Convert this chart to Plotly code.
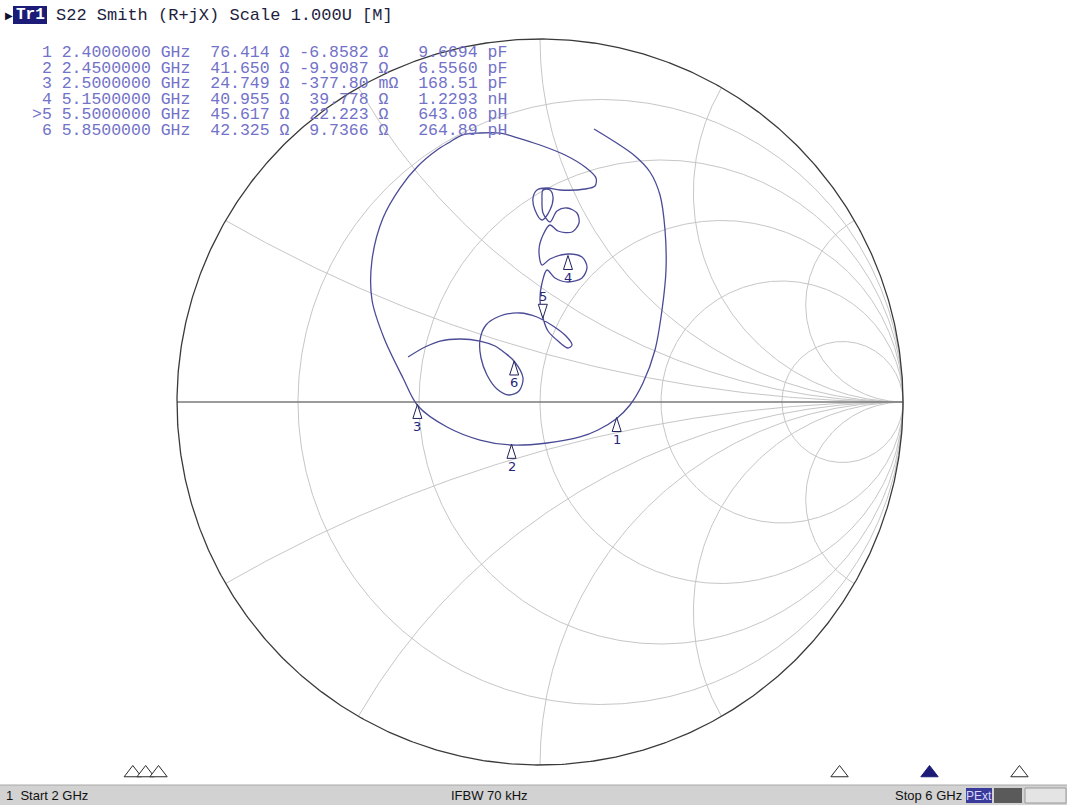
import numpy as np
import plotly.graph_objects as go

# ---------------- data ----------------
Z0 = 50.0
start_ghz = 2.0
stop_ghz = 6.0
ifbw_khz = 70
trace_name = "Tr1"
header_text = "S22 Smith (R+jX) Scale 1.000U [M]"

marker_ids = ["1", "2", "3", "4", "5", "6"]
marker_active = [False, False, False, False, True, False]
marker_freq_ghz = [2.40, 2.45, 2.50, 5.15, 5.50, 5.85]
marker_r_ohm = [76.414, 41.650, 24.749, 40.955, 45.617, 42.325]
marker_x_ohm = [-6.8582, -9.9087, -0.37780, 39.778, 22.223, 9.7366]
marker_eq_value = [9.6694, 6.5560, 168.51, 1.2293, 643.08, 264.89]
marker_eq_unit = ["pF", "pF", "pF", "nH", "pH", "pH"]

# S22 reflection coefficient (real / imaginary), 2 GHz -> 6 GHz
trace_gamma_re = [0.1488, 0.2066, 0.2617, 0.3030, 0.3306, 0.3444, 0.3471, 0.3361, 0.3168, 0.2837,
                  0.2479, 0.2094, 0.1598, 0.1102, 0.0193, -0.0799, -0.1653, -0.2562, -0.3361, -0.3774,
                  -0.4298, -0.4628, -0.4628, -0.4325, -0.3857, -0.3361, -0.2837, -0.2479, -0.2149, -0.1653,
                  -0.1102, -0.0689, 0.0000, 0.0689, 0.1240, 0.1543, 0.1515, 0.1240, 0.0551, 0.0193,
                  -0.0083, -0.0193, -0.0138, 0.0055, 0.0275, 0.0358, 0.0275, 0.0083, 0.0055, 0.0083,
                  0.0275, 0.0468, 0.0744, 0.1019, 0.1074, 0.0882, 0.0496, 0.0275, 0.0083, -0.0028,
                  0.0055, 0.0275, 0.0771, 0.1157, 0.1295, 0.1157, 0.0771, 0.0413, 0.0193, 0.0055,
                  0.0000, 0.0083, 0.0220, 0.0496, 0.0771, 0.0882, 0.0716, 0.0358, -0.0083, -0.0551,
                  -0.1102, -0.1488, -0.1653, -0.1625, -0.1460, -0.1185, -0.0854, -0.0579, -0.0468, -0.0716,
                  -0.0964, -0.1240, -0.1653, -0.2204, -0.2755, -0.3168, -0.3636]
trace_gamma_im = [0.7521, 0.7163, 0.6777, 0.6336, 0.5702, 0.4738, 0.3636, 0.2534, 0.1433, 0.0523,
                  -0.0083, -0.0468, -0.0771, -0.0964, -0.1129, -0.1185, -0.1047, -0.0689, -0.0110, 0.0661,
                  0.1763, 0.2810, 0.3912, 0.5069, 0.5895, 0.6501, 0.6942, 0.7163, 0.7355, 0.7410,
                  0.7410, 0.7300, 0.7080, 0.6804, 0.6474, 0.6171, 0.5950, 0.5868, 0.5840, 0.5895,
                  0.5840, 0.5620, 0.5289, 0.5014, 0.5289, 0.5647, 0.5840, 0.5840, 0.5565, 0.5207,
                  0.4959, 0.5262, 0.5344, 0.5207, 0.4931, 0.4683, 0.4711, 0.4876, 0.4601, 0.4187,
                  0.3774, 0.3939, 0.4077, 0.3994, 0.3719, 0.3416, 0.3306, 0.3416, 0.3636, 0.3278,
                  0.2810, 0.2314, 0.1956, 0.1680, 0.1488, 0.1570, 0.1818, 0.2094, 0.2342, 0.2452,
                  0.2369, 0.2121, 0.1708, 0.1212, 0.0744, 0.0358, 0.0193, 0.0303, 0.0661, 0.1129,
                  0.1350, 0.1543, 0.1680, 0.1736, 0.1680, 0.1515, 0.1240]

grid_r = [0.2, 0.5, 1.0, 2.0, 5.0]
grid_x = [0.268, 0.577, 1.0, 1.732, 3.732]

# ---------------- layout constants (pixels) ----------------
W, H = 1067, 805
CX, CY, RAD = 540, 402, 363
FREQ_PX0, FREQ_PX1 = 30, 1058
PX = 1.0 / RAD  # data units per pixel

MONO = "Liberation Mono, DejaVu Sans Mono, monospace"
NARROW = "Liberation Sans Narrow, Liberation Sans, Arial"
GRID_C = "#c6c6c6"
NAVY = "#1c1c78"

fig = go.Figure()

# ---------------- Smith grid ----------------
t = np.linspace(0, 2 * np.pi, 721)
for r in grid_r:
    fig.add_trace(go.Scatter(x=r / (1 + r) + np.cos(t) / (1 + r), y=np.sin(t) / (1 + r),
                             mode="lines", line=dict(color=GRID_C, width=1),
                             hoverinfo="skip", showlegend=False))
rr = np.concatenate([[0.0], np.logspace(-3, 4.5, 600)])
for xv in grid_x:
    for sgn in (1, -1):
        z = rr + 1j * sgn * xv
        g = (z - 1) / (z + 1)
        g = np.append(g, 1 + 0j)
        fig.add_trace(go.Scatter(x=g.real, y=g.imag, mode="lines",
                                 line=dict(color=GRID_C, width=1),
                                 hoverinfo="skip", showlegend=False))
# real axis
fig.add_trace(go.Scatter(x=[-1, 1], y=[0, 0], mode="lines", line=dict(color="#7a7a7a", width=1.5),
                         hoverinfo="skip", showlegend=False))
# outer circle
fig.add_trace(go.Scatter(x=np.cos(t), y=np.sin(t), mode="lines", line=dict(color="#3a3a3a", width=1.3),
                         hoverinfo="skip", showlegend=False))

# ---------------- measured trace ----------------
fig.add_trace(go.Scatter(x=trace_gamma_re, y=trace_gamma_im, mode="lines",
                         line=dict(color="#4a4a96", width=1.3, shape="spline", smoothing=0.9),
                         hoverinfo="skip", showlegend=False))

# ---------------- markers on the chart ----------------
shapes = []
annotations = []
zs = (np.array(marker_r_ohm) + 1j * np.array(marker_x_ohm)) / Z0
gam = (zs - 1) / (zs + 1)
for mid, act, g in zip(marker_ids, marker_active, gam):
    gx, gy = g.real, g.imag
    hw, hh = 4.5 * PX, 14 * PX
    if act:
        path = f"M {gx},{gy} L {gx - hw},{gy + hh} L {gx + hw},{gy + hh} Z"
        ysh = 22
    else:
        path = f"M {gx},{gy} L {gx - hw},{gy - hh} L {gx + hw},{gy - hh} Z"
        ysh = -22
    shapes.append(dict(type="path", path=path, xref="x", yref="y",
                       line=dict(color="#20205a", width=1), fillcolor="white", layer="above"))
    annotations.append(dict(x=gx, y=gy, xref="x", yref="y", text=mid, showarrow=False,
                            yshift=ysh, font=dict(family="DejaVu Sans", size=13, color="#26267a")))

# ---------------- marker table ----------------
NB = "\u00a0"
row_y = [53, 68.5, 84, 99.5, 115, 130.5]
for i in range(len(marker_ids)):
    num = (">" if marker_active[i] else " ") + marker_ids[i]
    freq = f"{marker_freq_ghz[i]:.7f} GHz"
    rs = f"{marker_r_ohm[i]:#.5g} Ω"
    xv = marker_x_ohm[i]
    if abs(xv) < 1:
        xs = f"{xv * 1000:#.5g} mΩ"
    else:
        xs = f"{xv:#.5g} Ω"
    if not xs.startswith("-"):
        xs = " " + xs
    eq = f"{marker_eq_value[i]:#.5g} {marker_eq_unit[i]}"
    line = f"{num} {freq}  {rs} {xs:<12}{eq}"
    annotations.append(dict(x=30 / W, y=1 - row_y[i] / H, xref="paper", yref="paper",
                            xanchor="left", yanchor="middle", showarrow=False,
                            text=line.replace(" ", NB),
                            font=dict(family=MONO, size=16.5, color="#7272c8")))

# ---------------- header ----------------
annotations.append(dict(x=3 / W, y=1 - 15 / H, xref="paper", yref="paper", xanchor="left",
                        yanchor="middle", showarrow=False, text="▶",
                        font=dict(family="DejaVu Sans", size=10, color="#101030")))
shapes.append(dict(type="rect", xref="paper", yref="paper", x0=13 / W, x1=47 / W,
                   y0=1 - 24 / H, y1=1 - 6 / H, fillcolor=NAVY, line=dict(width=0)))
annotations.append(dict(x=30 / W, y=1 - 15 / H, xref="paper", yref="paper", xanchor="center",
                        yanchor="middle", showarrow=False, text="<b>" + trace_name + "</b>",
                        font=dict(family=MONO, size=16, color="white")))
annotations.append(dict(x=54 / W, y=1 - 15 / H, xref="paper", yref="paper", xanchor="left",
                        yanchor="middle", showarrow=False, text=header_text.replace(" ", NB),
                        font=dict(family=MONO, size=17, color="#1e1e40")))

# ---------------- status bar ----------------
SB_TOP = 785
shapes.append(dict(type="rect", xref="paper", yref="paper", x0=0, x1=1, y0=0, y1=1 - SB_TOP / H,
                   fillcolor="#d2d2d2", line=dict(width=0), layer="below"))
shapes.append(dict(type="line", xref="paper", yref="paper", x0=0, x1=1, y0=1 - SB_TOP / H,
                   y1=1 - SB_TOP / H, line=dict(color="#a8a8a8", width=1)))
sb_y = 1 - 795.5 / H
annotations.append(dict(x=4 / W, y=sb_y, xref="paper", yref="paper", xanchor="left", yanchor="middle",
                        showarrow=False, text="1" + NB + NB + f"Start{NB}{start_ghz:g}{NB}GHz",
                        font=dict(family=NARROW, size=13, color="#111111")))
annotations.append(dict(x=490 / W, y=sb_y, xref="paper", yref="paper", xanchor="center", yanchor="middle",
                        showarrow=False, text=f"IFBW{NB}{ifbw_khz}{NB}kHz",
                        font=dict(family=NARROW, size=13, color="#111111")))
annotations.append(dict(x=964 / W, y=sb_y, xref="paper", yref="paper", xanchor="right", yanchor="middle",
                        showarrow=False, text=f"Stop{NB}{stop_ghz:g}{NB}GHz",
                        font=dict(family=NARROW, size=13, color="#111111")))
shapes.append(dict(type="rect", xref="paper", yref="paper", x0=966 / W, x1=992 / W,
                   y0=1 - 803 / H, y1=1 - 788 / H, fillcolor="#3a3a9a", line=dict(width=0)))
annotations.append(dict(x=979 / W, y=sb_y, xref="paper", yref="paper", xanchor="center", yanchor="middle",
                        showarrow=False, text="PExt",
                        font=dict(family=NARROW, size=12, color="#d8d8ff")))
shapes.append(dict(type="rect", xref="paper", yref="paper", x0=994 / W, x1=1022 / W,
                   y0=1 - 803 / H, y1=1 - 788 / H, fillcolor="#5a5a5a", line=dict(width=0)))
shapes.append(dict(type="rect", xref="paper", yref="paper", x0=1025 / W, x1=1066 / W,
                   y0=1 - 803 / H, y1=1 - 788 / H, fillcolor="#e4e4e4",
                   line=dict(color="#9a9a9a", width=1)))

# ---------------- marker position row (frequency axis) ----------------
ppg = (FREQ_PX1 - FREQ_PX0) / (stop_ghz - start_ghz)
fr_range = [start_ghz - FREQ_PX0 / ppg, start_ghz + (W - FREQ_PX0) / ppg]
inact_f = [f for f, a in zip(marker_freq_ghz, marker_active) if not a]
act_f = [f for f, a in zip(marker_freq_ghz, marker_active) if a]
fig.add_trace(go.Scatter(x=inact_f, y=[0.5] * len(inact_f), xaxis="x2", yaxis="y2", mode="markers",
                         marker=dict(symbol="triangle-up", size=15, color="white",
                                     line=dict(color="#2a2a2a", width=1)),
                         hoverinfo="skip", showlegend=False))
fig.add_trace(go.Scatter(x=act_f, y=[0.5] * len(act_f), xaxis="x2", yaxis="y2", mode="markers",
                         marker=dict(symbol="triangle-up", size=15, color=NAVY,
                                     line=dict(color=NAVY, width=1)),
                         hoverinfo="skip", showlegend=False))

# ---------------- axes / layout ----------------
fig.update_layout(
    width=W, height=H, autosize=False,
    margin=dict(l=0, r=0, t=0, b=0, pad=0),
    paper_bgcolor="white", plot_bgcolor="rgba(0,0,0,0)",
    xaxis=dict(range=[-CX / RAD, (W - CX) / RAD], domain=[0, 1], visible=False, fixedrange=True),
    yaxis=dict(range=[(CY - H) / RAD, CY / RAD], domain=[0, 1], visible=False, fixedrange=True),
    xaxis2=dict(range=fr_range, domain=[0, 1], anchor="y2", visible=False, fixedrange=True),
    yaxis2=dict(range=[0, 1], domain=[1 - 782 / H, 1 - 764 / H], anchor="x2", visible=False,
                fixedrange=True),
    shapes=shapes, annotations=annotations, showlegend=False,
)

fig.write_html("out.html", config={"displayModeBar": False},
               post_script="document.body.style.margin='0px';")
